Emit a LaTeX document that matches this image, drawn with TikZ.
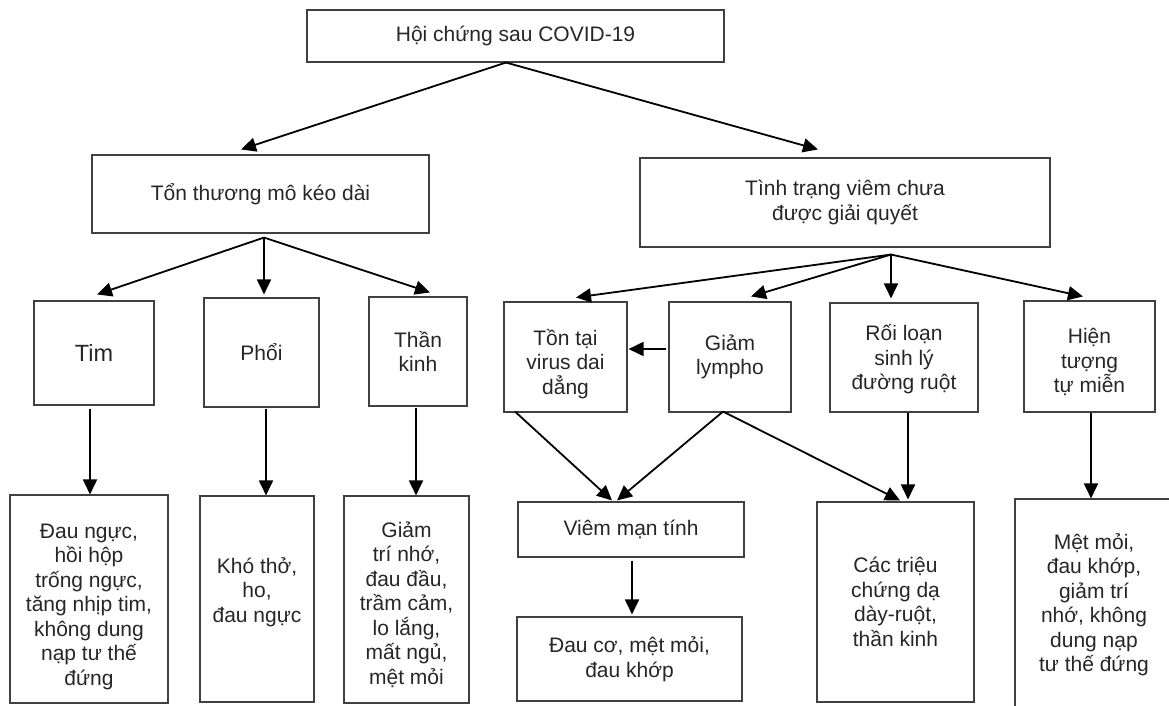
\documentclass[tikz,border=0pt]{standalone}
\usepackage{fontspec}
\setmainfont{Liberation Sans}
\usetikzlibrary{arrows.meta,calc}
\newcommand{\lift}[1]{\rule{0pt}{#1}}
\newcommand{\sink}[1]{\rule[-#1]{0pt}{0pt}}
\begin{document}
\begin{tikzpicture}[x=1pt,y=-1pt,
  box/.style={draw=black!75, line width=1.1pt, rectangle, inner sep=0pt, align=center,
    text=black!85, font=\fontsize{21}{24.5}\selectfont},
  arr/.style={draw=black, line width=1.8pt, -{Triangle[length=15pt,width=14pt]}}]
\useasboundingbox (0,0) rectangle (1169,705);
% level 0
\node[box, minimum width=417pt, minimum height=52pt] (top) at (515.5,36) {Hội chứng sau COVID-19};
% level 1
\node[box, minimum width=337pt, minimum height=78pt] (ton) at (260.5,194) {Tổn thương mô kéo dài};
\node[box, minimum width=410pt, minimum height=89pt] (tinh) at (845,202.5) {Tình trạng viêm chưa\\được giải quyết};
% level 2 left
\node[box, minimum width=120pt, minimum height=104pt, font=\fontsize{23.5}{26}\selectfont] (tim) at (94,353) {Tim};
\node[box, minimum width=115pt, minimum height=109pt] (phoi) at (261.5,352.5) {Phổi};
\node[box, minimum width=98pt, minimum height=109pt] (than) at (418,351.5) {Thần\\kinh};
% level 2 right
\node[box, minimum width=123pt, minimum height=110pt] (tontai) at (565.5,357) {\lift{29.5pt}Tồn tại\\virus dai\\dẳng};
\node[box, minimum width=122pt, minimum height=110pt] (giam) at (730,357) {Giảm\\lympho};
\node[box, minimum width=148pt, minimum height=109pt] (roi) at (904,357.5) {\lift{20pt}Rối loạn\\sinh lý\\đường ruột};
\node[box, minimum width=131pt, minimum height=111pt] (hien) at (1089.5,356.5) {\lift{26.5pt}Hiện\\tượng\\tự miễn};
% level 3
\node[box, minimum width=158pt, minimum height=208pt] (timB) at (89,599) {\lift{30pt}Đau ngực,\\hồi hộp\\trống ngực,\\tăng nhịp tim,\\không dung\\nạp tư thế\\đứng};
\node[box, minimum width=114pt, minimum height=206pt] (phoiB) at (257,599) {Khó thở,\\ho,\\đau ngực\sink{18.5pt}};
\node[box, minimum width=125pt, minimum height=207pt] (thanB) at (406.5,599.5) {\lift{25.5pt}Giảm\\trí nhớ,\\đau đầu,\\trầm cảm,\\lo lắng,\\mất ngủ,\\mệt mỏi};
\node[box, minimum width=226pt, minimum height=55pt] (viem) at (631,529.5) {Viêm mạn tính};
\node[box, minimum width=225pt, minimum height=84pt] (dauco) at (629.5,659) {Đau cơ, mệt mỏi,\\đau khớp};
\node[box, minimum width=157pt, minimum height=200pt] (cac) at (895.5,602) {Các triệu\\chứng dạ\\dày-ruột,\\thần kinh};
\node[box, minimum width=158pt, minimum height=211pt] (met) at (1094,604.5) {Mệt mỏi,\\đau khớp,\\giảm trí\\nhớ, không\\dung nạp\\tư thế đứng};
% forks
\coordinate (f0) at ($(top.south)+(-9.5,0)$);
\coordinate (f1) at ($(ton.south)+(3.5,4)$);
\coordinate (f2) at ($(tinh.south)+(46,7)$);
% connectors
\draw[arr] (f0) -- ($(ton.north)+(-19.5,-5)$);
\draw[arr] (f0) -- ($(tinh.north)+(-27,-8)$);
\draw[arr] (f1) -- ($(tim.north)+(3,-6)$);
\draw[arr] (f1) -- ($(phoi.north)+(2.5,-3)$);
\draw[arr] (f1) -- ($(than.north)+(12,-4)$);
\draw[arr] (f2) -- ($(tontai.north)+(10.5,-4)$);
\draw[arr] (f2) -- ($(giam.north)+(21,-5)$);
\draw[arr] (f2) -- ($(roi.north)+(-13,-4)$);
\draw[arr] (f2) -- ($(hien.north)+(-6.5,-4)$);
\draw[arr] ($(giam.west)+(-2,-8)$) -- ($(tontai.east)+(1,-8)$);
\draw[arr] ($(tontai.south)+(-50.5,-1)$) -- ($(viem.north)+(-19,-1)$);
\draw[arr] ($(giam.south)+(-7,-1)$) -- ($(viem.north)+(-14,-1)$);
\draw[arr] ($(giam.south)+(-7,-1)$) -- ($(cac.north)+(4.5,-1)$);
\draw[arr] ($(roi.south)+(4,0)$) -- ($(cac.north)+(12.5,-2)$);
\draw[arr] ($(hien.south)+(1.5,0)$) -- ($(met.north)+(-3,0)$);
\draw[arr] ($(tim.south)+(-4,3)$) -- ($(timB.north)+(1,0)$);
\draw[arr] ($(phoi.south)+(4.5,1)$) -- ($(phoiB.north)+(9,0)$);
\draw[arr] ($(than.south)+(-2,1)$) -- ($(thanB.north)+(9.5,0)$);
\draw[arr] ($(viem.south)+(1,3)$) -- ($(dauco.north)+(2.5,-2)$);
\end{tikzpicture}
\end{document}
